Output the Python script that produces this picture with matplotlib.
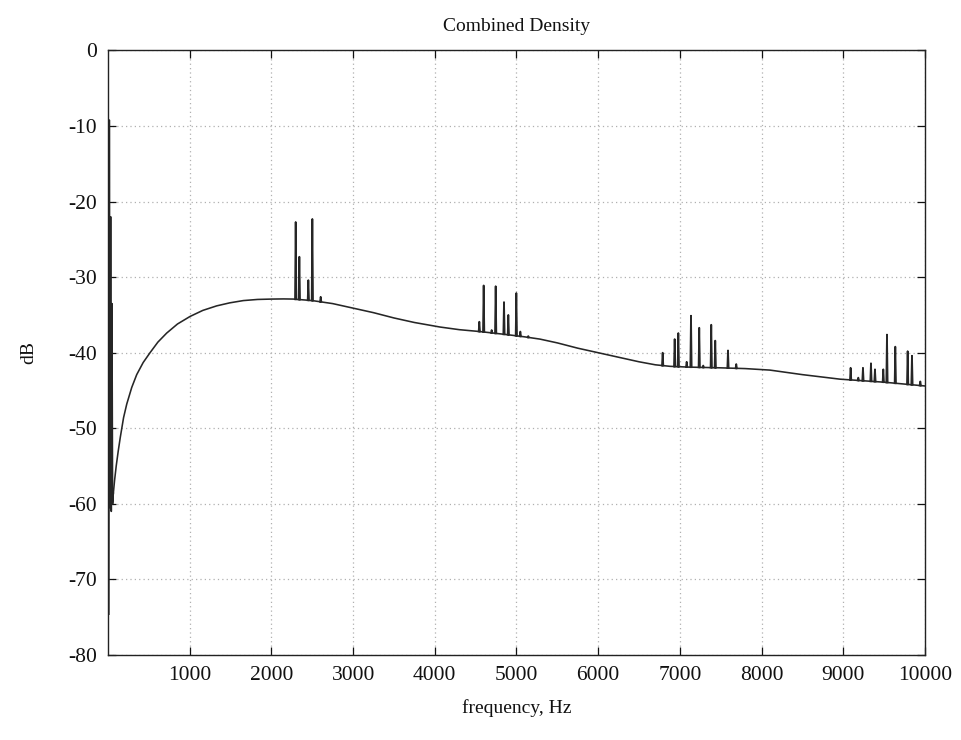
import numpy as np
import matplotlib
matplotlib.use("Agg")
import matplotlib.pyplot as plt

# Smooth spectral envelope (Hz, dB)
env_freq = [65, 80, 100, 125, 150, 190, 229, 290, 351, 430, 514, 610, 718, 850,
            1004, 1160, 1330, 1490, 1656, 1830, 2003, 2150, 2268, 2500, 2750,
            3000, 3250, 3500, 3750, 4064, 4300, 4553, 4880, 5100, 5288, 5500,
            5750, 6000, 6250, 6500, 6700, 6879, 7100, 7500, 7800, 8103, 8500,
            8960, 9500, 10000]
env_db = [-58.6, -56.9, -55.0, -53.0, -51.2, -48.6, -46.8, -44.6, -42.9, -41.3,
          -40.0, -38.6, -37.4, -36.2, -35.2, -34.4, -33.8, -33.4, -33.1, -32.95,
          -32.9, -32.88, -32.9, -33.1, -33.5, -34.1, -34.7, -35.4, -36.0, -36.6,
          -36.95, -37.2, -37.6, -37.9, -38.2, -38.7, -39.4, -40.0, -40.6, -41.2,
          -41.6, -41.8, -41.9, -42.0, -42.1, -42.3, -42.9, -43.5, -43.9, -44.4]

# Low-frequency (DC) region
low_freq = [10, 16, 24, 32, 40, 48, 56, 65]
low_db = [-74.6, -9.2, -60.5, -22.0, -61.0, -33.5, -60.0, -58.6]

# Harmonic line components: frequency (Hz) and peak level (dB)
line_freq = [2297, 2342, 2452, 2501, 2603,
             4545, 4598, 4696, 4745, 4847, 4900, 4998, 5047, 5144,
             6789, 6936, 6981, 7083, 7136, 7237, 7286, 7384, 7433, 7589, 7690,
             9090, 9184, 9241, 9339, 9388, 9490, 9535, 9637, 9788, 9841, 9943]
line_db = [-22.7, -27.3, -30.4, -22.3, -32.6,
           -35.9, -31.1, -37.0, -31.2, -33.3, -35.0, -32.1, -37.2, -37.8,
           -40.0, -38.2, -37.4, -41.2, -35.1, -36.7, -41.7, -36.3, -38.4, -39.7, -41.5,
           -42.0, -43.3, -42.0, -41.4, -42.2, -42.2, -37.6, -39.2, -39.8, -40.4, -43.8]

x_ticks = [1000, 2000, 3000, 4000, 5000, 6000, 7000, 8000, 9000, 10000]
y_ticks = [0, -10, -20, -30, -40, -50, -60, -70, -80]

plt.rcParams['font.family'] = ['Liberation Serif', 'DejaVu Serif']

fig = plt.figure(figsize=(9.62, 7.40), dpi=100)
ax = fig.add_axes([0.1123, 0.1149, 0.8492, 0.8169])

lc = '#262626'
lw = 1.15
ax.plot(env_freq, env_db, color=lc, lw=lw)
ax.plot(low_freq, low_db, color=lc, lw=lw, clip_on=False)

half = 8
for f, top in zip(line_freq, line_db):
    base = np.interp(f, env_freq, env_db)
    ax.plot([f - half, f, f + half], [base, top, base], color=lc, lw=1.3)

ax.set_xlim(0, 10000)
ax.set_ylim(-80, 0)
ax.set_xticks(x_ticks)
ax.set_yticks(y_ticks)
ax.set_xticklabels([str(v) for v in x_ticks])
ax.set_yticklabels([str(v) for v in y_ticks])

ax.grid(True, color='#b0b0b0', linestyle=(0, (1, 2.5)), linewidth=0.9)
ax.tick_params(direction='in', length=6, width=0.9, top=True, right=True,
               labelsize=15.5, pad=8, colors='#111111')
for s in ax.spines.values():
    s.set_linewidth(1.0)
    s.set_color('#222222')

ax.set_title('Combined Density', fontsize=14, pad=14, color='#111111')
ax.set_xlabel('frequency, Hz', fontsize=14, labelpad=10, color='#111111')
ax.set_ylabel('dB', fontsize=14, labelpad=22, color='#111111')

fig.savefig('out.png', dpi=100)
